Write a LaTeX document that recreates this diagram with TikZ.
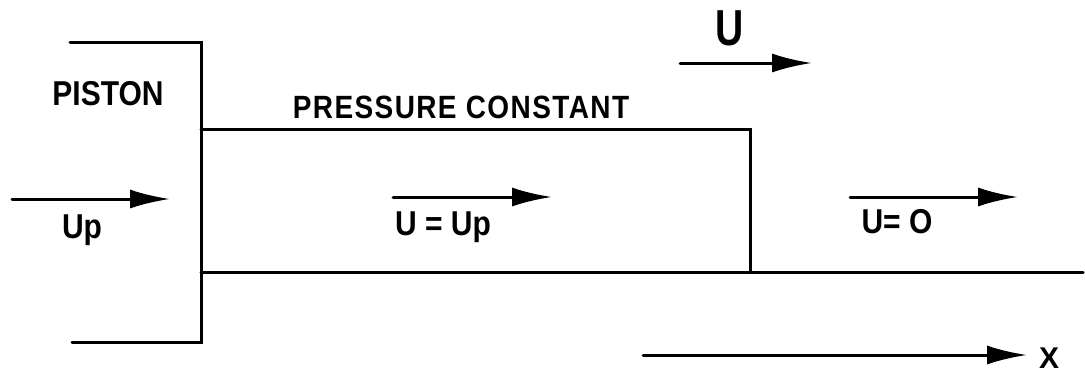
\documentclass[tikz,border=0pt]{standalone}
\usepackage{fontspec}
\usepackage{graphicx}
\setmainfont{Liberation Sans}
\usetikzlibrary{arrows.meta}
\newcommand{\tallt}[1]{\scalebox{1}[1.15]{#1}}
\begin{document}
\begin{tikzpicture}[x=1pt,y=-1pt,
  wall/.style={line width=3pt,line cap=round,line join=miter},
  vel/.style={line width=3pt,line cap=round,-{Latex[length=40pt,width=19pt]}},
  lbl/.style={inner sep=0pt,anchor=base,font=\fontsize{30}{30}\selectfont\bfseries},
  big/.style={inner sep=0pt,anchor=base,font=\fontsize{46}{46}\selectfont\bfseries}]
\useasboundingbox (0,0) rectangle (1085,376);
% piston bracket
\coordinate (pt0) at (70,42);
\coordinate (pt1) at (201,42);
\coordinate (pb1) at (201,342);
\coordinate (pb0) at (72,342);
\draw[wall] (pt0) -- (pt1) -- (pb1) -- (pb0);
% pressure profile
\coordinate (h0) at (201,129);
\coordinate (h1) at (750,129);
\coordinate (s1) at (750,272);
\coordinate (b0) at (201,272);
\coordinate (b1) at (1083,272);
\draw[wall] (h0) -- (h1) -- (s1);
\draw[wall] (b0) -- (b1);
% texts
\node[lbl] (piston) at (108,105) {\tallt{PISTON}};
\node[lbl,font=\fontsize{28}{28}\selectfont\bfseries\addfontfeature{LetterSpace=5}] (pc) at (461,118) {\tallt{PRESSURE CONSTANT}};
\node[big] (U) at (730,45) {\scalebox{0.85}[1.1]{U}};
\node[lbl] (up) at (82,238) {\tallt{Up}};
\node[lbl] (uup) at (443,235) {\tallt{U = Up}};
\node[lbl] (u0) at (897,233) {\tallt{U= O}};
\node[lbl] (X) at (1049,368) {X};
% arrows
\coordinate (a0) at (12,199);  \coordinate (a1) at (170,199);
\coordinate (m0) at (393,197); \coordinate (m1) at (552,197);
\coordinate (r0) at (850,197); \coordinate (r1) at (1018,197);
\coordinate (t0) at (680,63);  \coordinate (t1) at (812,63);
\coordinate (x0) at (643,355); \coordinate (x1) at (1027,355);
\draw[vel] (a0) -- (a1);
\draw[vel] (m0) -- (m1);
\draw[vel] (r0) -- (r1);
\draw[vel] (t0) -- (t1);
\draw[vel] (x0) -- (x1);
\end{tikzpicture}
\end{document}
